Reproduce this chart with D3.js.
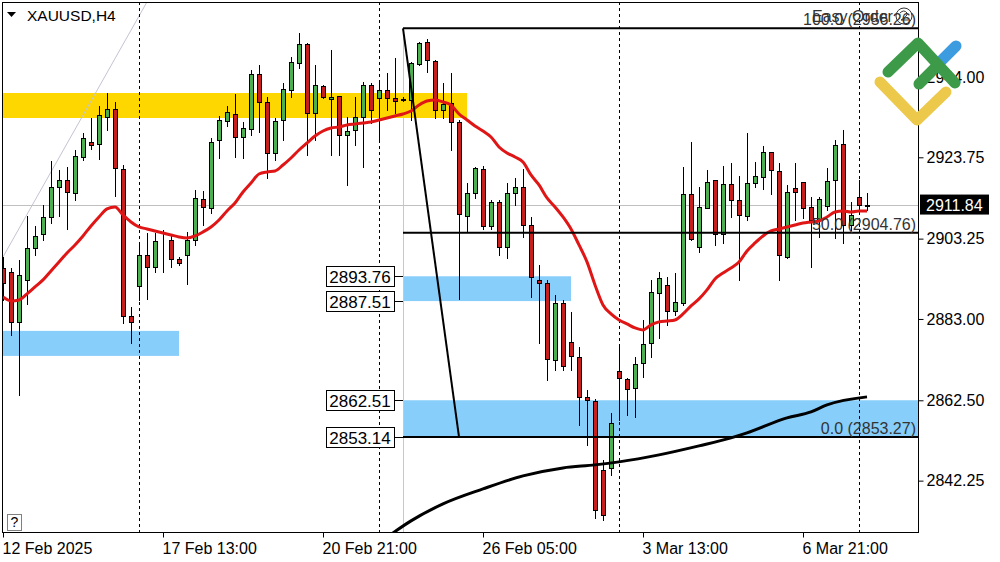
<!DOCTYPE html>
<html><head><meta charset="utf-8">
<script src="https://cdn.jsdelivr.net/npm/d3@7"></script>
<style>
body{margin:0;background:#fff;}
svg{display:block;font-family:"Liberation Sans",Arial,sans-serif;}
</style></head><body>
<svg id="chart" width="1000" height="562"></svg>
<script>
// ---------- data ----------
const symbolTitle = "XAUUSD,H4";
const timeTickIdx = [0, 20, 40, 60, 80, 100];
const timeTickLabels = ["12 Feb 2025", "17 Feb 13:00", "20 Feb 21:00", "26 Feb 05:00", "3 Mar 13:00", "6 Mar 21:00"];
const weekStartIdx = [17, 47, 77, 107];
const priceTicks = [2944.00, 2923.75, 2903.25, 2883.00, 2862.50, 2842.25];
const lastPrice = 2911.84;

const open = [2895.86,2894.86,2882.26,2892.84,2900.9,2904.43,2908.72,2916.28,2918.04,2914.76,2923.84,2927.62,2927.11,2933.92,2935.93,2920.81,2883.77,2891.33,2899.14,2896.12,2902.92,2902.92,2898.13,2899.14,2902.92,2913.25,2910.98,2928.12,2932.91,2934.67,2928.88,2930.89,2944.75,2937.7,2924.84,2933.16,2940.72,2947.52,2952.31,2934.92,2941.73,2938.45,2939.21,2929.38,2930.64,2933.92,2941.98,2938.7,2940.72,2938.7,2938.45,2938.2,2947.27,2952.82,2948.03,2935.68,2937.44,2932.66,2908.97,2914.76,2920.81,2906.45,2912.5,2901.16,2914.76,2916.28,2906.7,2892.84,2892.08,2872.68,2887.04,2877.22,2873.44,2863.36,2862.35,2844.96,2845.46,2869.91,2867.89,2865.62,2871.92,2876.96,2889.56,2891.58,2885.03,2887.04,2914.51,2901.16,2910.98,2918.04,2904.43,2917.03,2913.0,2908.97,2917.28,2918.8,2925.1,2920.31,2898.64,2916.02,2917.54,2911.24,2907.96,2911.49,2918.04,2927.11,2906.7,2913.76,2911.49];
const high = [2898.64,2895.86,2897.88,2908.97,2906.45,2911.74,2922.83,2920.56,2921.32,2925.6,2929.88,2933.66,2936.69,2939.96,2937.7,2921.82,2886.04,2901.66,2904.68,2904.68,2905.44,2904.18,2898.64,2904.94,2915.52,2915.27,2928.62,2934.17,2936.69,2939.71,2932.66,2945.76,2947.02,2938.96,2933.66,2942.48,2949.04,2955.08,2952.56,2947.02,2941.98,2950.8,2939.21,2933.92,2938.96,2942.74,2942.48,2942.48,2945.0,2948.78,2938.96,2947.78,2952.82,2953.57,2948.28,2942.48,2945.0,2933.16,2917.28,2921.32,2921.57,2913.0,2913.0,2917.28,2918.54,2920.81,2908.72,2896.62,2892.84,2889.06,2887.8,2884.78,2875.96,2865.12,2862.85,2847.48,2859.32,2876.46,2868.14,2873.44,2882.76,2892.84,2894.86,2893.6,2894.6,2921.32,2927.62,2916.28,2920.56,2918.04,2921.57,2922.32,2919.05,2929.88,2922.58,2926.61,2925.1,2922.32,2916.78,2922.32,2917.54,2913.76,2913.76,2921.06,2928.12,2930.64,2912.5,2918.04,2914.76];
const low = [2887.8,2878.98,2863.86,2886.79,2899.14,2902.92,2907.2,2908.97,2905.69,2913.0,2923.08,2925.85,2923.33,2930.64,2914.01,2882.0,2876.96,2887.8,2888.05,2894.86,2894.86,2896.12,2896.62,2891.83,2901.66,2906.7,2909.72,2923.58,2931.65,2923.84,2923.58,2929.38,2930.14,2918.54,2923.08,2928.12,2938.96,2946.26,2924.34,2928.12,2938.7,2924.34,2924.34,2916.78,2926.86,2921.32,2932.4,2928.12,2935.68,2934.92,2937.95,2933.16,2947.02,2945.26,2933.66,2933.66,2925.6,2888.05,2905.19,2913.5,2905.69,2905.69,2899.14,2898.38,2911.74,2903.68,2888.56,2876.96,2867.64,2870.16,2870.16,2870.16,2856.3,2851.26,2832.86,2832.36,2843.7,2857.56,2858.82,2858.32,2868.4,2873.44,2878.22,2881.5,2884.02,2886.54,2902.92,2899.9,2910.98,2901.66,2902.16,2908.72,2892.84,2907.96,2916.28,2915.77,2914.51,2892.84,2898.38,2907.96,2908.46,2896.12,2903.68,2910.48,2903.42,2902.16,2905.44,2910.48,2910.48];
const close = [2892.08,2882.26,2894.1,2900.9,2903.93,2908.72,2916.28,2918.04,2915.02,2924.09,2928.62,2926.86,2934.42,2935.93,2921.06,2883.77,2882.26,2899.14,2896.12,2902.67,2902.8,2898.13,2897.12,2902.92,2913.5,2911.24,2927.62,2933.16,2935.18,2928.88,2931.14,2944.75,2937.7,2924.84,2932.91,2940.97,2947.78,2952.31,2934.92,2941.98,2938.96,2938.96,2929.38,2930.39,2933.92,2941.98,2935.68,2940.72,2938.7,2937.95,2938.2,2947.52,2952.56,2948.28,2935.68,2937.19,2932.66,2909.47,2914.76,2921.06,2906.45,2912.5,2901.16,2914.76,2916.28,2906.7,2893.6,2892.08,2872.93,2887.04,2871.17,2873.69,2863.36,2862.6,2834.88,2833.62,2856.8,2868.14,2865.37,2871.67,2876.71,2889.82,2893.34,2885.03,2887.3,2914.51,2903.17,2911.24,2917.54,2904.43,2917.03,2913.0,2909.22,2917.28,2919.05,2925.1,2920.56,2899.14,2915.02,2915.02,2910.98,2907.96,2913.25,2917.79,2926.86,2906.7,2909.22,2911.74,2911.84];

// moving averages
const maFast = [2888.56,2887.55,2887.8,2889.31,2891.08,2892.84,2895.11,2897.38,2899.64,2901.66,2903.93,2906.45,2908.72,2910.73,2911.24,2909.22,2907.46,2906.2,2905.69,2905.19,2904.68,2904.18,2903.68,2903.42,2903.93,2904.94,2906.2,2907.96,2910.23,2912.24,2915.02,2917.28,2919.55,2920.06,2920.31,2921.82,2923.58,2925.6,2927.36,2929.13,2930.39,2931.14,2931.4,2931.9,2932.15,2932.4,2932.66,2933.16,2933.66,2934.17,2934.67,2935.43,2936.94,2937.95,2938.2,2937.7,2936.94,2934.67,2933.16,2931.65,2930.39,2928.88,2926.36,2924.84,2923.84,2922.58,2919.3,2916.78,2913.5,2911.24,2908.72,2905.69,2901.66,2897.38,2891.58,2886.54,2884.27,2882.76,2881.75,2880.74,2880.24,2881.5,2882.26,2882.51,2882.76,2884.27,2886.29,2888.05,2890.32,2893.09,2894.6,2895.86,2897.38,2900.15,2902.16,2903.93,2905.19,2905.69,2906.2,2906.7,2907.2,2907.46,2907.71,2908.72,2909.98,2910.23,2909.98,2910.23,2910.23];
const maSlowIdx = [47, 51, 55, 60, 65, 70, 74, 77, 82, 87, 91, 93, 98, 101, 103, 108];
const maSlowVal = [2826.5, 2832.11, 2836.39, 2840.17, 2843.45, 2845.46, 2846.22, 2846.98, 2848.74, 2851.01, 2853.02, 2854.28, 2858.06, 2859.58, 2861.34, 2863.36];

// drawn objects
const zoneFrom = [-3, -3, 50, 50];
const zoneTo = [58, 22, 71, 130];
const zoneHigh = [2939.96, 2880.0, 2893.76, 2862.51];
const zoneLow = [2933.66, 2873.69, 2887.51, 2853.14];
const zoneColor = ["#FFD700", "#87CEFA", "#87CEFA", "#87CEFA"];
const priceLabelValues = [2893.76, 2887.51, 2862.51, 2853.14];
const priceLabelIdx = 50;
const fibStartIdx = 50, fibEndIdx = 57;
const fibLevelPct = ["100.0", "50.0", "0.0"];
const fibLevelPrice = [2956.26, 2904.76, 2853.27];
const trendIdx = [-1, 19];
const trendPrice = [2895.07, 2966.5];

// ---------- layout ----------
const svg = d3.select("#chart");
const P = {l: 2, t: 2, r: 918, b: 532};
const x = d3.scaleLinear().domain([0, 108]).range([3, 867]);
const y = d3.scaleLinear().domain([2829.3, 2962.9]).range([P.b, P.t]);
const green = "#4caf50", red = "#c81e1e";

svg.append("rect").attr("width", 1000).attr("height", 562).attr("fill", "#fff");
svg.append("defs").append("clipPath").attr("id", "clip")
  .append("rect").attr("x", P.l).attr("y", P.t).attr("width", P.r - P.l).attr("height", P.b - P.t);
const g = svg.append("g").attr("clip-path", "url(#clip)");

// zones
g.selectAll("rect.zone").data(zoneFrom).join("rect").attr("class", "zone")
  .attr("x", (d, i) => x(zoneFrom[i]))
  .attr("width", (d, i) => x(zoneTo[i]) - x(zoneFrom[i]))
  .attr("y", (d, i) => y(zoneHigh[i]))
  .attr("height", (d, i) => y(zoneLow[i]) - y(zoneHigh[i]))
  .attr("fill", (d, i) => zoneColor[i]);

// bid line
g.append("line").attr("x1", P.l).attr("x2", P.r)
  .attr("y1", Math.round(y(lastPrice)) + 0.5).attr("y2", Math.round(y(lastPrice)) + 0.5)
  .attr("stroke", "#c0c0c0");
// vertical anchor line
g.append("line").attr("x1", x(fibStartIdx) + 0.5).attr("x2", x(fibStartIdx) + 0.5)
  .attr("y1", y(fibLevelPrice[0])).attr("y2", P.b).attr("stroke", "#c8c8c8");
// gray trend line
g.append("line").attr("x1", x(trendIdx[0])).attr("y1", y(trendPrice[0]))
  .attr("x2", x(trendIdx[1])).attr("y2", y(trendPrice[1]))
  .attr("stroke", "#c4c4d4").attr("stroke-width", 1);

// week separators
g.selectAll("line.sep").data(weekStartIdx).join("line").attr("class", "sep")
  .attr("x1", d => x(d) + 0.5).attr("x2", d => x(d) + 0.5)
  .attr("y1", P.t).attr("y2", P.b)
  .attr("stroke", "#000").attr("stroke-dasharray", "3,3");

// candles
const idx = d3.range(open.length);
const cg = g.append("g");
cg.selectAll("line.wick").data(idx).join("line").attr("class", "wick")
  .attr("x1", i => x(i) + 0.5).attr("x2", i => x(i) + 0.5)
  .attr("y1", i => Math.round(y(high[i]))).attr("y2", i => Math.round(y(low[i])) + 1)
  .attr("stroke", "#000");
cg.selectAll("rect.body").data(idx).join("rect").attr("class", "body")
  .attr("x", i => x(i) - 1.5).attr("width", 4)
  .attr("y", i => Math.round(y(Math.max(open[i], close[i]))) + 0.5)
  .attr("height", i => Math.round(y(Math.min(open[i], close[i]))) - Math.round(y(Math.max(open[i], close[i]))))
  .attr("fill", i => close[i] >= open[i] ? green : red)
  .attr("stroke", "#000");

// moving averages
g.append("path").datum(maSlowIdx)
  .attr("d", d3.line().x(i => x(i)).y((i, j) => y(maSlowVal[j])).curve(d3.curveMonotoneX))
  .attr("fill", "none").attr("stroke", "#000").attr("stroke-width", 3);
g.append("path").datum(idx)
  .attr("d", d3.line().x(i => x(i)).y(i => y(maFast[i])).curve(d3.curveMonotoneX))
  .attr("fill", "none").attr("stroke", "#e01515").attr("stroke-width", 3);

// fibonacci
g.selectAll("line.fib").data(fibLevelPrice).join("line").attr("class", "fib")
  .attr("x1", x(fibStartIdx)).attr("x2", P.r)
  .attr("y1", d => y(d)).attr("y2", d => y(d))
  .attr("stroke", "#000").attr("stroke-width", 2);
g.append("line").attr("x1", x(fibStartIdx)).attr("y1", y(fibLevelPrice[0]))
  .attr("x2", x(fibEndIdx)).attr("y2", y(fibLevelPrice[2]))
  .attr("stroke", "#000").attr("stroke-width", 2);
g.selectAll("text.fib").data(fibLevelPrice).join("text").attr("class", "fib")
  .attr("x", P.r - 2).attr("y", d => y(d) - 3)
  .attr("text-anchor", "end").attr("font-size", 16).attr("fill", "#333")
  .text((d, i) => `${fibLevelPct[i]} (${d.toFixed(2)})`);

// Easy Order overlay (overlaps the 100.0 label, as in the reference)
g.append("text").attr("x", 812).attr("y", 22).attr("font-size", 16).attr("fill", "#333").text("Easy Order");
g.append("circle").attr("cx", 904).attr("cy", 16).attr("r", 8).attr("fill", "none").attr("stroke", "#333");
g.append("path").attr("d", "M900,13 Q904,9 907,13 Q908,16 901,20 L908,20").attr("fill", "none").attr("stroke", "#333");

// price labels
const lg = svg.append("g");
priceLabelValues.forEach(v => {
  const yy = Math.round(y(v)) + 0.5;
  const xr = x(priceLabelIdx) - 9;
  lg.append("line").attr("x1", xr).attr("x2", x(priceLabelIdx)).attr("y1", yy).attr("y2", yy).attr("stroke", "#000");
  lg.append("rect").attr("x", xr - 68 + 0.5).attr("y", yy - 10).attr("width", 68).attr("height", 20)
    .attr("fill", "#fff").attr("stroke", "#000");
  lg.append("text").attr("x", xr - 34).attr("y", yy + 6).attr("text-anchor", "middle")
    .attr("font-size", 17).attr("fill", "#000").text(v.toFixed(2));
});

// frame
svg.append("rect").attr("x", P.l + 0.5).attr("y", P.t + 0.5).attr("width", P.r - P.l).attr("height", P.b - P.t)
  .attr("fill", "none").attr("stroke", "#000");

// axes
const ya = svg.append("g").attr("transform", `translate(${P.r + 0.5},0)`)
  .call(d3.axisRight(y).tickValues(priceTicks).tickFormat(d3.format(".2f")).tickSize(5).tickPadding(3));
ya.select(".domain").remove();
ya.selectAll("text").attr("font-size", 16).attr("font-family", "Liberation Sans, Arial, sans-serif").attr("fill", "#000");
ya.selectAll("line").attr("stroke", "#000");

const xa = svg.append("g").attr("transform", `translate(0,${P.b + 0.5})`)
  .call(d3.axisBottom(x).tickValues(timeTickIdx).tickFormat((d, i) => timeTickLabels[i]).tickSize(5).tickPadding(5));
xa.select(".domain").remove();
xa.selectAll("text").attr("font-size", 16).attr("font-family", "Liberation Sans, Arial, sans-serif")
  .attr("fill", "#000").attr("text-anchor", "start").attr("dx", -1);
xa.selectAll("line").attr("stroke", "#000");

// last price tag
const ly = y(lastPrice);
svg.append("rect").attr("x", 920).attr("y", ly - 10).attr("width", 69).attr("height", 20).attr("fill", "#000");
svg.append("text").attr("x", 926).attr("y", ly + 6).attr("font-size", 16).attr("fill", "#fff").text(lastPrice.toFixed(2));

// title
svg.append("path").attr("d", "M7,12 L16,12 L11.5,17 Z").attr("fill", "#000");
svg.append("text").attr("x", 27).attr("y", 21).attr("font-size", 15.5).attr("fill", "#000").text(symbolTitle);

// help box
svg.append("rect").attr("x", 7.5).attr("y", 514.5).attr("width", 14).attr("height", 16).attr("fill", "#fff").attr("stroke", "#808080");
svg.append("text").attr("x", 14.5).attr("y", 527).attr("text-anchor", "middle").attr("font-size", 14).text("?");

// logo
const logo = svg.append("g").attr("fill", "none").attr("stroke-linecap", "round").attr("stroke-linejoin", "round").attr("stroke-width", 11);
logo.append("path").attr("d", "M880,82 L917,120 L946,92").attr("stroke", "#ecc94b");
logo.append("path").attr("d", "M938,64 L956,46").attr("stroke", "#3d9be0");
logo.append("path").attr("d", "M888,72 L918,43 L955,83").attr("stroke", "#3c9a48");
logo.append("path").attr("d", "M919,84 L938,65").attr("stroke", "#3c9a48");
</script>
</body></html>
